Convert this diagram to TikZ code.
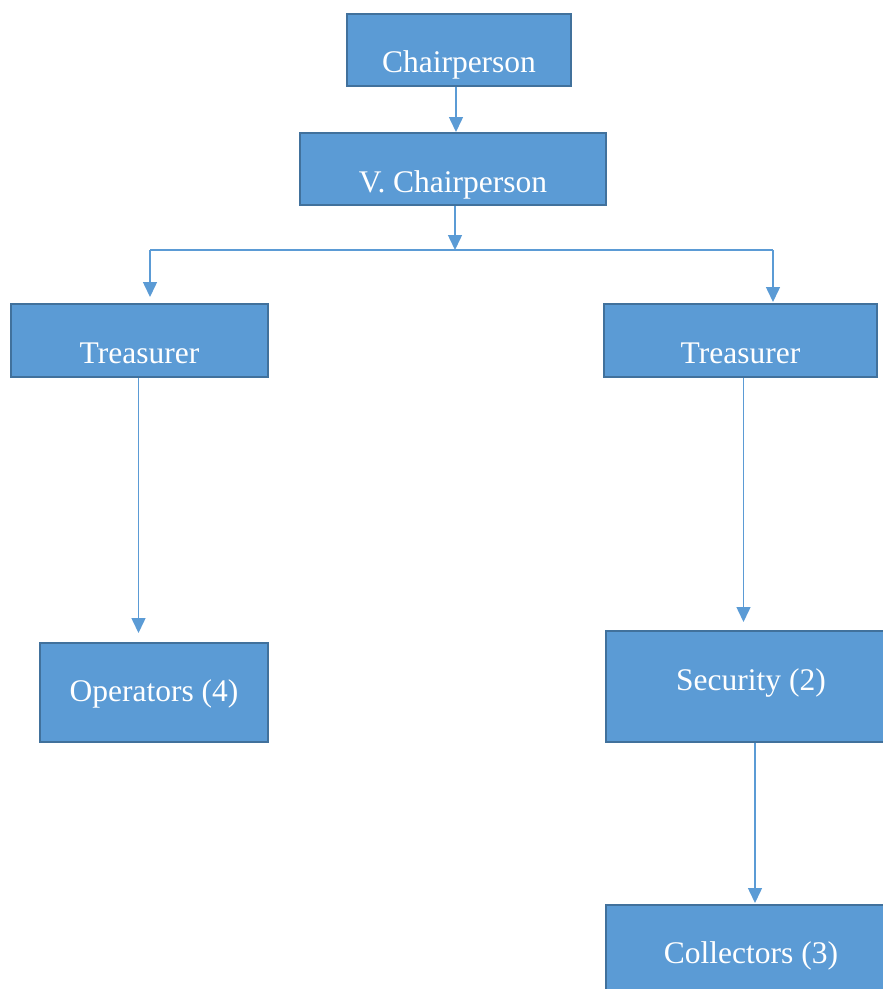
\documentclass[tikz,border=0pt]{standalone}
\usepackage{fontspec}
\setmainfont{Liberation Serif}
\usepackage{tikz}
\usetikzlibrary{arrows.meta,positioning}
\usepackage{xcolor}
\definecolor{officeblue}{RGB}{91,155,213}
\definecolor{officeedge}{RGB}{65,113,156}
\definecolor{linkblue}{RGB}{91,155,213}

\begin{document}
\begin{tikzpicture}[
    x=1pt, y=-1pt,
    every node/.style={font=\fontsize{31.5}{36}\selectfont},
    orgbox/.style={rectangle, draw=officeedge, fill=officeblue, line width=2pt,
                   text=white, inner xsep=0pt, inner ysep=0pt, anchor=north west},
    link/.style={-{Triangle[length=15pt, width=14pt]}, line width=1.5pt, color=linkblue},
    bus/.style={line width=1.5pt, color=linkblue}
]
\useasboundingbox (0,0) rectangle (883,989);
\clip (0,0) rectangle (883,989);
% boxes (top left corner, then width and text height/depth)
\node[orgbox, minimum width=224pt, text height=58pt, text depth=14pt] (chair) at (346,13) {Chairperson};
\node[orgbox, minimum width=306pt, text height=59pt, text depth=13pt] (vchair) at (299,132) {V. Chairperson};
\node[orgbox, minimum width=257pt, text height=59pt, text depth=14pt] (tresL) at (10,303) {Treasurer};
\node[orgbox, minimum width=273pt, text height=59pt, text depth=14pt] (tresR) at (603,303) {Treasurer};
\node[orgbox, minimum width=228pt, text height=58pt, text depth=41pt] (opers) at (39,642) {Operators (4)};
\node[orgbox, minimum width=290pt, text height=59pt, text depth=52pt] (secu) at (605,630) {Security (2)};
\node[orgbox, minimum width=290pt, text height=58pt, text depth=40pt] (coll) at (605,904) {Collectors (3)};
% branch points
\coordinate (split) at (455,250);
\coordinate (splitL) at (150,250);
\coordinate (splitR) at (773,250);
\draw[link] ([xshift=-3pt]chair.south) -- ([xshift=-3pt]chair.south |- vchair.north);
\draw[link] (vchair.south -| split) -- (split);
\draw[bus] (splitL) -- (splitR);
\draw[link, shorten >=6pt] (splitL) -- (splitL |- tresL.north);
\draw[link, shorten >=1pt] (splitR) -- (splitR |- tresR.north);
\draw[link, shorten >=9pt] ([xshift=-1pt]tresL.south) -- ([xshift=-1pt]tresL.south |- opers.north);
\draw[link, shorten >=8pt] ([xshift=3pt]tresR.south) -- ([xshift=3pt]tresR.south |- secu.north);
\draw[link, shorten >=1pt] ([xshift=4pt]secu.south) -- ([xshift=4pt]secu.south |- coll.north);
\end{tikzpicture}
\end{document}
